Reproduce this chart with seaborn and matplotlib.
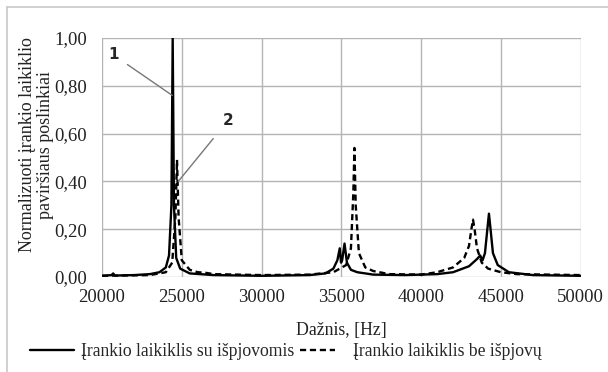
import numpy as np
import pandas as pd
import matplotlib
matplotlib.use("Agg")
import matplotlib.pyplot as plt
import seaborn as sns
from matplotlib.ticker import FuncFormatter, MultipleLocator
from matplotlib.lines import Line2D

# Series 1: tool holder with cut-outs (solid)
freq_1 = [20000, 20600, 20700, 20800, 22000, 23000, 23600, 24000, 24200, 24350, 24430,
          24510, 24650, 24900, 25500, 27000, 30000, 33000, 34000, 34500, 34750, 34900,
          34980, 35050, 35200, 35350, 35600, 36000, 37000, 39000, 41000, 42000, 43000,
          43500, 43700, 43850, 44000, 44150, 44250, 44350, 44500, 44800, 45500, 47000, 50000]
val_1 = [0.005, 0.008, 0.015, 0.006, 0.008, 0.012, 0.02, 0.04, 0.09, 0.3, 1.0,
         0.3, 0.08, 0.035, 0.015, 0.008, 0.005, 0.008, 0.015, 0.035, 0.07, 0.12,
         0.06, 0.07, 0.14, 0.06, 0.03, 0.02, 0.01, 0.008, 0.012, 0.02, 0.045,
         0.075, 0.09, 0.07, 0.1, 0.2, 0.265, 0.2, 0.1, 0.05, 0.02, 0.008, 0.005]

# Series 2: tool holder without cut-outs (dashed)
freq_2 = [20000, 23000, 24000, 24400, 24600, 24700, 24800, 25000, 25500, 26000, 26450,
          27000, 30000, 33000, 34500, 35300, 35600, 35750, 35820, 35900, 36100, 36500,
          37000, 38000, 40000, 41000, 42000, 42700, 43000, 43150, 43250, 43350, 43500,
          43800, 44200, 45000, 46000, 50000]
val_2 = [0.005, 0.008, 0.02, 0.06, 0.25, 0.49, 0.25, 0.07, 0.03, 0.02, 0.018,
         0.012, 0.008, 0.01, 0.02, 0.05, 0.12, 0.35, 0.54, 0.3, 0.1, 0.04,
         0.025, 0.012, 0.01, 0.02, 0.04, 0.08, 0.13, 0.2, 0.24, 0.2, 0.12,
         0.06, 0.035, 0.02, 0.012, 0.008]

series_names = ["Įrankio laikiklis su išpjovomis", "Įrankio laikiklis be išpjovų"]
x_label = "Dažnis, [Hz]"
y_label = "Normalizuoti įrankio laikiklio\npaviršiaus poslinkiai"

df = pd.concat([
    pd.DataFrame({"f": freq_1, "v": val_1, "s": series_names[0]}),
    pd.DataFrame({"f": freq_2, "v": val_2, "s": series_names[1]}),
], ignore_index=True)

sns.set_theme(style="white")
plt.rcParams["font.family"] = ["Liberation Serif", "DejaVu Serif"]

W, H = 608, 372
fig = plt.figure(figsize=(W / 100, H / 100), dpi=100)
ax = fig.add_axes([102 / W, 1 - 277 / H, (580.7 - 102) / W, (277 - 38) / H])

DASH = (2.6, 1.6)
sns.lineplot(data=df, x="f", y="v", hue="s", style="s",
             palette=["black", "black"],
             dashes={series_names[0]: "", series_names[1]: DASH},
             linewidth=1.7, ax=ax, legend=False, sort=False, estimator=None)

ax.set_xlim(20000, 50000)
ax.set_ylim(0, 1.0)
ax.xaxis.set_major_locator(MultipleLocator(5000))
ax.yaxis.set_major_locator(MultipleLocator(0.2))
ax.yaxis.set_major_formatter(FuncFormatter(lambda v, p: f"{v:.2f}".replace(".", ",")))
ax.grid(True, color="#b4b4b4", linewidth=1.0)
ax.set_axisbelow(True)
for sp in ax.spines.values():
    sp.set_visible(False)
ax.tick_params(axis="both", length=0, labelsize=13.5, colors="#222222")
ax.tick_params(axis="x", pad=9)
ax.tick_params(axis="y", pad=11)
ax.set_xlabel(x_label, fontsize=12.8, labelpad=11, color="#222222")
ax.set_ylabel(y_label, fontsize=13, color="#222222", linespacing=1.05)
ax.yaxis.set_label_coords((54 - 102) / (580.7 - 102), (277 - 145) / 239)

# Callouts
ax.annotate("1", xy=(24400, 0.76), xytext=(20700, 1.0 - 0.07),
            fontsize=11, fontweight="bold", family="DejaVu Sans",
            ha="center", va="center",
            arrowprops=dict(arrowstyle="-", color="#777777", lw=1.0, shrinkA=5, shrinkB=0))
ax.annotate("2", xy=(24780, 0.40), xytext=(27900, 0.655),
            fontsize=11, fontweight="bold", family="DejaVu Sans",
            ha="center", va="center",
            arrowprops=dict(arrowstyle="-", color="#777777", lw=1.0, shrinkA=7, shrinkB=0))

# Legend (two parts, positioned as in the reference)
h1 = Line2D([], [], color="black", lw=1.7)
h2 = Line2D([], [], color="black", lw=1.7, dashes=DASH)
leg_y = 1 - 352 / H
l1 = fig.legend([h1], [series_names[0]], loc="center left",
                bbox_to_anchor=(30 / W, leg_y), frameon=False, fontsize=12.7,
                handlelength=2.5, handletextpad=0.4, borderpad=0, borderaxespad=0)
l2 = fig.legend([h2], [series_names[1]], loc="center left",
                bbox_to_anchor=(300 / W, leg_y), frameon=False, fontsize=12.7,
                handlelength=2.0, handletextpad=1.0, borderpad=0, borderaxespad=0)

# Outer chart border (top and left visible)
fig.add_artist(Line2D([7 / W, 1.0], [1 - 7 / H] * 2, color="#c8c8c8", lw=1.2))
fig.add_artist(Line2D([7 / W] * 2, [0, 1 - 7 / H], color="#c8c8c8", lw=1.2))

fig.savefig("out.png", dpi=100)
